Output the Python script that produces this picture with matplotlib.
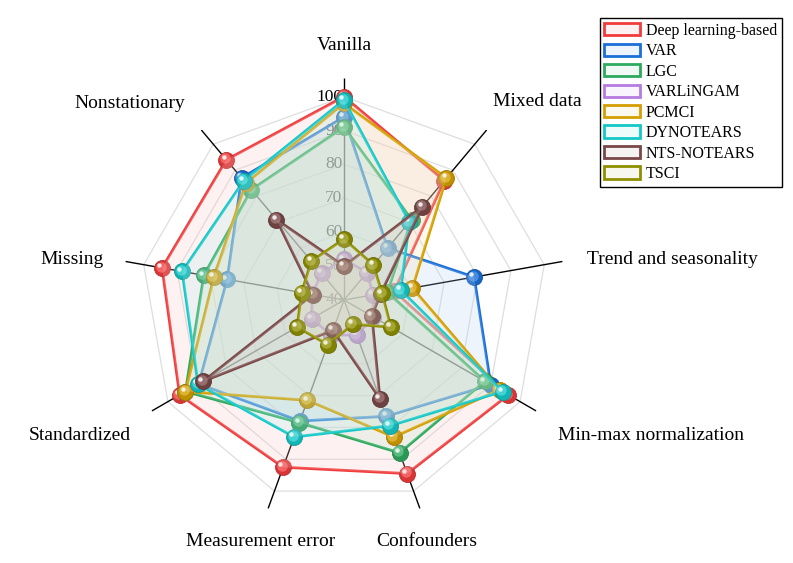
import numpy as np
import matplotlib
matplotlib.use("Agg")
import matplotlib.pyplot as plt
import matplotlib.patches as mpatches
from matplotlib.colors import to_rgba, to_rgb
from matplotlib.transforms import ScaledTranslation

plt.rcParams['font.family'] = ['Liberation Serif', 'DejaVu Serif']

categories = ["Vanilla", "Mixed data", "Trend and seasonality", "Min-max normalization",
              "Confounders", "Measurement error", "Standardized", "Missing", "Nonstationary"]

methods = ["Deep learning-based", "VAR", "LGC", "VARLiNGAM", "PCMCI",
           "DYNOTEARS", "NTS-NOTEARS", "TSCI"]

deep_learning = [100, 86, 55, 96, 94.5, 92.5, 96, 94.5, 94]
var_vals = [94, 60, 79, 90, 76.5, 78, 89.5, 75, 87]
lgc = [91, 71, 53, 88, 88, 78.5, 94, 82, 82.5]
varlingam = [52, 50.5, 48.7, 50, 51, 51, 51, 49.5, 50.3]
pcmci = [98, 87, 60.5, 93, 83, 71.5, 94, 79, 85]
dynotears = [99, 70, 57, 94, 79.5, 83, 89.7, 88.5, 86]
nts_notears = [50, 76, 51, 49.5, 71, 49.5, 88, 49.3, 71]
tsci = [58, 53.5, 51.4, 56, 47.6, 54, 56, 52.7, 55]

series = [deep_learning, var_vals, lgc, varlingam, pcmci, dynotears, nts_notears, tsci]
colors = ["#f03c3c", "#1a6fd8", "#2eaa5e", "#b57be0", "#d49f00",
          "#14c8c8", "#7a4848", "#8f8f00"]

r_ticks = [40, 50, 60, 70, 80, 90, 100]
r_min, r_max = 40, 105.5

W, H = 793, 563
fig = plt.figure(figsize=(W / 100, H / 100), dpi=100)

cx, cy, rad = 344, 300, 222
ax = fig.add_axes([(cx - rad) / W, (H - cy - rad) / H, 2 * rad / W, 2 * rad / H],
                  projection='polar')
ax.set_theta_zero_location('N')
ax.set_theta_direction(-1)
ax.set_ylim(r_min, r_max)
ax.grid(False)
ax.set_xticks([])
ax.set_yticks([])
ax.spines['polar'].set_visible(False)
ax.patch.set_alpha(0)

n = len(categories)
theta = np.arange(n) * 2 * np.pi / n
theta_c = np.append(theta, theta[0])

def lighten(c, f):
    r, g, b = to_rgb(c)
    return (r + (1 - r) * f, g + (1 - g) * f, b + (1 - b) * f)

def darken(c, f):
    r, g, b = to_rgb(c)
    return (r * (1 - f), g * (1 - f), b * (1 - f))

# grid rings
for v in r_ticks[1:]:
    ax.plot(theta_c, [v] * (n + 1), color='#dedede', lw=0.9, zorder=1)
# spokes
for t in theta:
    ax.plot([t, t], [r_min, r_max], color='black', lw=1.0, zorder=2, solid_capstyle='butt')
# radial tick labels
for v in r_ticks:
    ax.text(0, v, str(v), ha='right', va='center', fontsize=12.5, color='#000000',
            zorder=2.5, transform=ax.transData +
            ScaledTranslation(-1 / 72, 0, fig.dpi_scale_trans))

hl1 = ax.transData + ScaledTranslation(-1.0 / 72, 1.0 / 72, fig.dpi_scale_trans)
hl2 = ax.transData + ScaledTranslation(-2.0 / 72, 2.0 / 72, fig.dpi_scale_trans)

FILL_LIGHT = 0.68
FILL_ALPHA = 0.22

for i, (vals, c) in enumerate(zip(series, colors)):
    z = 3 + i * 4
    vc = np.append(vals, vals[0])
    ax.plot(theta_c, vc, color=c, lw=2.0, zorder=z)
    ax.plot(theta, vals, 'o', ms=11.5, color=darken(c, 0.10), mec=darken(c, 0.22),
            mew=0.6, zorder=z + 0.5, linestyle='none')
    ax.plot(theta, vals, 'o', ms=7.5, color=lighten(c, 0.2), mew=0,
            zorder=z + 0.6, linestyle='none', transform=hl1)
    ax.plot(theta, vals, 'o', ms=3.2, color=lighten(c, 0.88), mew=0,
            zorder=z + 0.7, linestyle='none', transform=hl2)
    ax.fill(theta_c, vc, color=lighten(c, FILL_LIGHT), alpha=FILL_ALPHA, lw=0, zorder=z + 1)

# category labels (pixel centres)
label_pos = [(344, 46), (537, 101), (672, 259), (651, 435), (427, 541),
             (261, 541), (80, 435), (72, 259), (130, 103)]
for name, (px, py) in zip(categories, label_pos):
    fig.text(px / W, 1 - py / H, name, ha='center', va='center', fontsize=14, color='black')

handles = [mpatches.Patch(facecolor=to_rgba(lighten(c, FILL_LIGHT), FILL_ALPHA),
                          edgecolor=c, linewidth=2, label=m)
           for m, c in zip(methods, colors)]
leg = fig.legend(handles=handles, loc='upper right', bbox_to_anchor=(782 / W, 1 - 18 / H),
                 fontsize=11.5, frameon=True, fancybox=False, framealpha=1,
                 edgecolor='black', handlelength=2.2, handleheight=0.8,
                 handletextpad=0.4, borderpad=0.3, labelspacing=0.28,
                 borderaxespad=0)
leg.get_frame().set_linewidth(1.0)

fig.savefig("out.png", dpi=100)
